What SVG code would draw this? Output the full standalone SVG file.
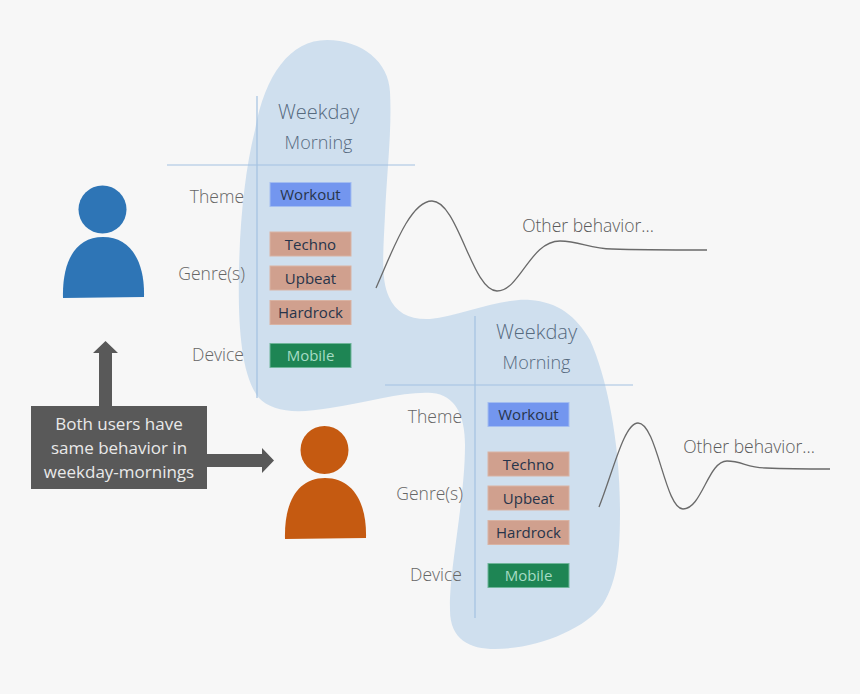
<svg xmlns="http://www.w3.org/2000/svg" width="860" height="694" viewBox="0 0 860 694">
<defs>
<style>
text{font-family:"Open Sans","Noto Sans","Liberation Sans",sans-serif;text-anchor:middle}
.blob{fill:#cfdfee}
.rule{stroke:#a3c2e2;stroke-width:1.2;fill:none}
.wave{stroke:#6a6a6a;stroke-width:1.3;fill:none}
.hd{fill:#566a7e;font-weight:300}
.h1{font-size:20px}
.h2{font-size:18px}
.lab{fill:#666;font-size:17.500px;text-anchor:end;font-weight:300}
.other{fill:#5a5a5a;font-size:17.500px;font-weight:300}
.tag{font-size:15px;fill:#27344a}
.b{fill:#7396ef;stroke:#a3bdf0}
.g{fill:#d0a08e;stroke:#d9b3a3}
.m{fill:#1e8554;stroke:#6fb59a}
.mt{font-size:15px;fill:#a6dcc4}
.note{fill:#e9e9e9;font-size:17px}
.arrow{fill:#595959}
</style>
<g id="card">
<path class="rule" d="M257 96V398M167 165H415"/>
<text class="hd h1" x="318.500" y="119">Weekday</text>
<text class="hd h2" x="318.500" y="149">Morning</text>
<text class="lab" x="244" y="203">Theme</text>
<text class="lab" x="245" y="280">Genre(s)</text>
<text class="lab" x="244" y="361">Device</text>
<rect class="b" x="270" y="182.500" width="81" height="24"/><text class="tag" x="310.500" y="200">Workout</text>
<rect class="g" x="270" y="232" width="81" height="24"/><text class="tag" x="310.500" y="250">Techno</text>
<rect class="g" x="270" y="266" width="81" height="24"/><text class="tag" x="310.500" y="284">Upbeat</text>
<rect class="g" x="270" y="300.500" width="81" height="24"/><text class="tag" x="310.500" y="318">Hardrock</text>
<rect class="m" x="270" y="343.500" width="81" height="24"/><text class="mt" x="310.500" y="361">Mobile</text>
</g>
</defs>
<rect width="860" height="694" fill="#f7f7f7"/>
<g id="blob"><path class="blob" d="M327 40C362 40 389 62 390 92C392 130 387 170 385 215C383 255 381 280 389 297C396 313 410 320 430 319C460 316 500 298 530 300C558 302 576 316 590 340C606 375 620 440 620 510C620 550 618 580 603 604C585 630 535 649 495 649C470 649 450 640 450 610C449 570 465 500 465 445C465 415 455 395 432 393C405 391 370 402 330 408C295 414 272 412 258 397C240 372 238 320 239 270C240 220 245 170 255 130C265 75 290 40 327 40Z"/></g>
<g id="connectors">
<path class="wave" d="M376 288C392 252 410 201 432 201C458 201 472 291 497 291C520 291 530 241 560 241C580 241 590 249 612 249C640 250 680 250 707 250"/>
<path class="wave" d="M599 507C613 472 624 423 638 423C657 423 665 509 683 509C702 509 708 461 727 461C742 461 748 468 766 468C790 469 810 469 830 469"/>
<path class="arrow" d="M99 406V353H93L105.500 341L118 353H112V406ZM207 454H262V448L274 460.500L262 473V467H207Z"/>
</g>
<g id="card-1"><use href="#card"/></g>
<g id="card-2"><use href="#card" x="218" y="220"/></g>
<g id="user-blue" fill="#2e75b6"><circle cx="102.500" cy="209.500" r="24"/><path d="M63 298C62 262 75 237 103 237C131 237 145 262 144 297Z"/></g>
<g id="user-orange" fill="#c55a11"><circle cx="324.500" cy="450" r="24"/><path d="M285 539C284 503 297 478 325 478C353 478 367 503 366 538Z"/></g>
<g id="note"><rect class="arrow" x="31" y="406" width="176" height="83"/>
<text class="note" x="119" y="430">Both users have</text>
<text class="note" x="119" y="454">same behavior in</text>
<text class="note" x="119" y="478">weekday-mornings</text></g>
<text class="other" x="588" y="232">Other behavior...</text>
<text class="other" x="749" y="453">Other behavior...</text>
</svg>
